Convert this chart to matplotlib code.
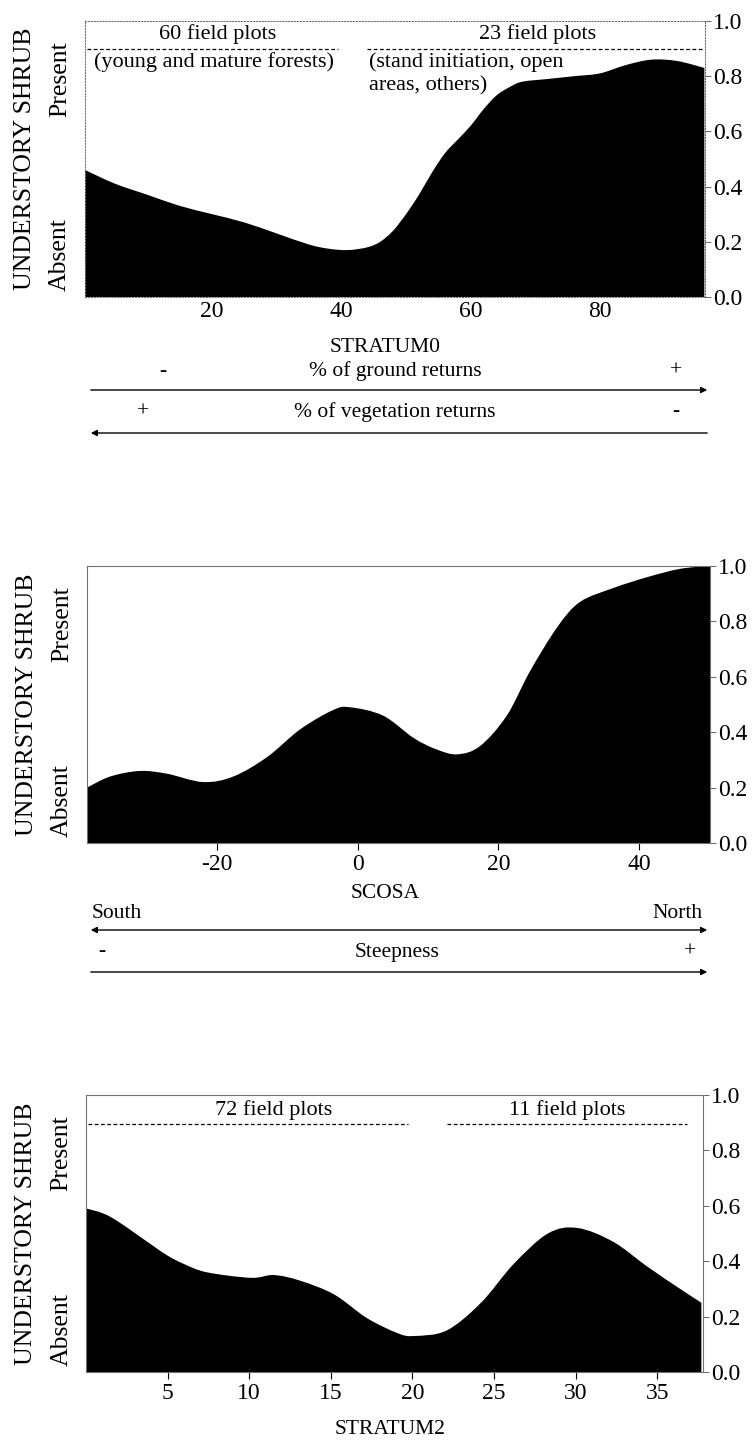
import matplotlib.pyplot as plt
from matplotlib.patches import FancyArrowPatch, PathPatch
from matplotlib.path import Path

plt.rcParams['font.family'] = ['Liberation Serif', 'DejaVu Serif']
plt.rcParams['axes.unicode_minus'] = False

W, H = 756, 1443

# response curves (probability of understory shrub presence)
stratum0 = [0.3, 5, 10, 15, 20, 25, 30, 35, 38, 41, 44, 46, 48, 50, 52, 54, 56, 58,
            60, 62, 64, 66, 68, 72, 76, 80, 84, 88, 92, 96.2]
shrub0 = [0.46, 0.41, 0.37, 0.33, 0.30, 0.27, 0.23, 0.19, 0.175, 0.17, 0.18, 0.20, 0.24,
          0.30, 0.37, 0.45, 0.52, 0.57, 0.62, 0.68, 0.73, 0.76, 0.78, 0.79, 0.80, 0.81,
          0.84, 0.86, 0.855, 0.83]

scosa = [-38.5, -35.2, -31, -27.1, -22, -17.7, -12.9, -8.2, -3.5, -1.1, 3.6, 7.9, 11,
         14.1, 17.4, 21.2, 24.5, 28.4, 31.6, 36.3, 41.2, 45.9, 50.1]
shrub_scosa = [0.20, 0.24, 0.26, 0.25, 0.22, 0.24, 0.31, 0.41, 0.48, 0.49, 0.46, 0.38,
               0.34, 0.32, 0.35, 0.46, 0.62, 0.78, 0.87, 0.92, 0.96, 0.99, 1.0]

stratum2 = [0.04, 1.5, 4.0, 5.0, 6.0, 7.4, 10.1, 11.5, 13.1, 15.2, 17.2, 19.1, 20.1,
            22.1, 24.2, 26.2, 28.3, 30.1, 32.3, 34.4, 36.4, 37.7]
shrub2 = [0.59, 0.56, 0.46, 0.42, 0.39, 0.36, 0.34, 0.35, 0.33, 0.28, 0.195, 0.14, 0.13,
          0.15, 0.25, 0.39, 0.50, 0.52, 0.47, 0.38, 0.30, 0.25]

yticks = [0.0, 0.2, 0.4, 0.6, 0.8, 1.0]


def fx(px):
    return px / W


def fy(py):
    return 1 - py / H


fig = plt.figure(figsize=(7.56, 14.43), dpi=100)


def smooth_fill(ax, x, y):
    # black area under the curve, drawn as a smooth bezier path through the read points
    n = len(x)
    verts = [(x[0], 0), (x[0], y[0])]
    codes = [Path.MOVETO, Path.LINETO]
    for i in range(n - 1):
        a, b = max(i - 1, 0), min(i + 2, n - 1)
        c1 = (x[i] + (x[i + 1] - x[a]) / 6, y[i] + (y[i + 1] - y[a]) / 6)
        c2 = (x[i + 1] - (x[b] - x[i]) / 6, y[i + 1] - (y[b] - y[i]) / 6)
        verts += [c1, c2, (x[i + 1], y[i + 1])]
        codes += [Path.CURVE4] * 3
    verts += [(x[-1], 0), (x[0], 0)]
    codes += [Path.LINETO, Path.CLOSEPOLY]
    ax.add_patch(PathPatch(Path(verts, codes), fc='black', ec='none'))


def panel(box, x, y, xlim, xticks, ticklen):
    left, top, right, bottom = box
    ax = fig.add_axes([fx(left), fy(bottom), fx(right) - fx(left), fy(top) - fy(bottom)])
    smooth_fill(ax, x, y)
    ax.set_xlim(xlim)
    ax.set_ylim(0, 1)
    ax.yaxis.tick_right()
    ax.set_yticks(yticks)
    ax.set_yticklabels(['%.1f' % v for v in yticks])
    ax.set_xticks(xticks)
    ax.tick_params(axis='y', length=4, width=0.7, color='0.4', labelsize=17, pad=2)
    ax.tick_params(axis='x', length=ticklen, width=0.8, labelsize=17, pad=3)
    for s in ax.spines.values():
        s.set_color('0.45')
        s.set_linewidth(0.8)
    ax.text(-0.097, 0.5, 'UNDERSTORY SHRUB', rotation=90, ha='center', va='center',
            fontsize=18.5, transform=ax.transAxes)
    ax.text(-0.04, 0.79, 'Present', rotation=90, ha='center', va='center',
            fontsize=18.5, transform=ax.transAxes)
    ax.text(-0.04, 0.155, 'Absent', rotation=90, ha='center', va='center',
            fontsize=18.5, transform=ax.transAxes)
    return ax


def arrow(x0, x1, y, style='-|>'):
    a = FancyArrowPatch((fx(x0), fy(y)), (fx(x1), fy(y)), transform=fig.transFigure,
                        arrowstyle=style, mutation_scale=9, lw=1.0, color='black')
    fig.add_artist(a)


# ---- panel 1: STRATUM0
ax1 = panel((85, 21, 705, 297), stratum0, shrub0, (0.3, 96.3), [20, 40, 60, 80], 0)
for s in ax1.spines.values():
    s.set_linestyle(':')
ax1.plot([0.6, 39.4], [0.90, 0.90], color='black', lw=0.9, ls=(0, (3, 2)))
ax1.plot([44, 96], [0.90, 0.90], color='black', lw=0.9, ls=(0, (3, 2)))
ax1.text(20.8, 0.915, '60 field plots', ha='center', va='bottom', fontsize=16)
ax1.text(20.2, 0.85, '(young and mature forests)', ha='center', va='center', fontsize=16)
ax1.text(70.4, 0.915, '23 field plots', ha='center', va='bottom', fontsize=16)
ax1.text(44.3, 0.85, '(stand initiation, open', ha='left', va='center', fontsize=16)
ax1.text(44.3, 0.765, 'areas, others)', ha='left', va='center', fontsize=16)

fig.text(fx(385), fy(347), 'STRATUM0', ha='center', va='center', fontsize=15.5)
fig.text(fx(163), fy(371), '-', ha='center', va='center', fontsize=15.5)
fig.text(fx(395), fy(371), '% of ground returns', ha='center', va='center', fontsize=15.5)
fig.text(fx(676), fy(371), '+', ha='center', va='center', fontsize=15.5)
arrow(88, 710, 390)
fig.text(fx(143), fy(412), '+', ha='center', va='center', fontsize=15.5)
fig.text(fx(395), fy(412), '% of vegetation returns', ha='center', va='center', fontsize=15.5)
fig.text(fx(676), fy(412), '-', ha='center', va='center', fontsize=15.5)
arrow(710, 88, 433)

# ---- panel 2: SCOSA
ax2 = panel((87, 566, 710, 843), scosa, shrub_scosa, (-38.5, 50.1), [-20, 0, 20, 40], 5)

fig.text(fx(385), fy(893), 'SCOSA', ha='center', va='center', fontsize=15.5)
fig.text(fx(92), fy(914), 'South', ha='left', va='center', fontsize=15.5)
fig.text(fx(703), fy(914), 'North', ha='right', va='center', fontsize=15.5)
arrow(88, 710, 930, '<|-|>')
fig.text(fx(102), fy(952), '-', ha='center', va='center', fontsize=15.5)
fig.text(fx(397), fy(952), 'Steepness', ha='center', va='center', fontsize=15.5)
fig.text(fx(690), fy(952), '+', ha='center', va='center', fontsize=15.5)
arrow(88, 710, 972)

# ---- panel 3: STRATUM2
ax3 = panel((86, 1095, 703, 1372), stratum2, shrub2, (0.0, 37.8), [5, 10, 15, 20, 25, 30, 35], 5)
ax3.plot([0.1, 19.75], [0.895, 0.895], color='black', lw=0.9, ls=(0, (3, 2)))
ax3.plot([22.1, 36.8], [0.895, 0.895], color='black', lw=0.9, ls=(0, (3, 2)))
ax3.text(11.5, 0.91, '72 field plots', ha='center', va='bottom', fontsize=16)
ax3.text(29.5, 0.91, '11 field plots', ha='center', va='bottom', fontsize=16)

fig.text(fx(390), fy(1430), 'STRATUM2', ha='center', va='center', fontsize=15.5)

fig.savefig('out.png', dpi=100)
